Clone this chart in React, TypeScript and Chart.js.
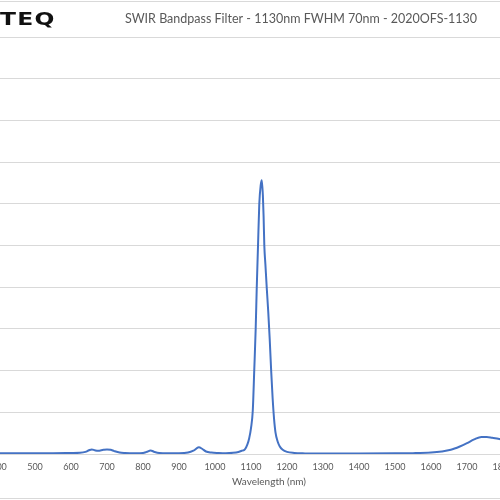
import React, { useEffect, useRef } from "react";
import { Chart, registerables } from "chart.js";

Chart.register(...registerables);

// ---- data ----
const wavelengths = [
  400, 450, 500, 550, 600, 625, 640, 650, 658, 666, 675, 690, 700, 710, 720, 735, 750, 780,
  800, 810, 821, 832, 845, 870, 900, 925, 940, 955, 965, 975, 990, 1010, 1030, 1050, 1065,
  1075, 1083, 1090, 1095, 1100, 1105, 1109, 1113, 1116, 1119.5, 1123, 1127, 1130, 1133, 1135,
  1137, 1140, 1144, 1148, 1152, 1156, 1160, 1164, 1168, 1174, 1180, 1188, 1200, 1220, 1250,
  1300, 1400, 1500, 1550, 1600, 1630, 1655, 1680, 1700, 1720, 1740, 1755, 1770, 1790, 1800,
  1850, 1900,
];
const transmission = [
  0.2, 0.2, 0.2, 0.2, 0.25, 0.3, 0.5, 0.9, 1.1, 0.9, 0.75, 1.0, 1.1, 1.0, 0.7, 0.35, 0.25, 0.2,
  0.25, 0.5, 0.85, 0.5, 0.25, 0.2, 0.2, 0.35, 0.8, 1.6, 1.2, 0.6, 0.35, 0.25, 0.2, 0.3, 0.5,
  0.8, 1.1, 2.3, 3.8, 6.2, 10.5, 20, 30, 40, 50, 60, 64.5, 65.7, 62, 57,
  50, 45.5, 39.5, 34, 27.5, 20, 13.5, 8.5, 5.2, 3.0, 1.8, 1.0, 0.5, 0.25, 0.15,
  0.1, 0.1, 0.15, 0.2, 0.35, 0.6, 1.0, 1.8, 2.6, 3.5, 4.1, 4.1, 3.9, 3.6, 3.4,
  2.5, 1.5,
];
const xTickValues = [400, 500, 600, 700, 800, 900, 1000, 1100, 1200, 1300, 1400, 1500, 1600, 1700, 1800, 1900];
const yTickValues = [0, 10, 20, 30, 40, 50, 60, 70, 80, 90, 100];

const chartTitle = "SWIR Bandpass Filter - 1130nm FWHM 70nm - 2020OFS-1130";
const xAxisTitle = "Wavelength (nm)";
const logoText = "TEQ";

const OFFSET_X = 100;
const CANVAS_W = 802;
const CANVAS_H = 500;
const FONT = "Lato, 'Open Sans', sans-serif";

const framePlugin = {
  id: "frame",
  beforeDraw(chart: any) {
    const ctx = chart.ctx;
    ctx.save();
    ctx.fillStyle = "#ffffff";
    ctx.fillRect(0, 0, chart.width, chart.height);
    ctx.strokeStyle = "#d9d9d9";
    ctx.lineWidth = 1;
    ctx.beginPath();
    ctx.moveTo(0, 1.5);
    ctx.lineTo(chart.width, 1.5);
    ctx.moveTo(0, 498.5);
    ctx.lineTo(chart.width, 498.5);
    ctx.stroke();
    ctx.restore();
  },
  afterDraw(chart: any) {
    const ctx = chart.ctx;
    // logo text
    ctx.save();
    ctx.fillStyle = "#111111";
    ctx.font = "bold 18px 'DejaVu Sans', sans-serif";
    ctx.textBaseline = "alphabetic";
    ctx.translate(OFFSET_X, 25);
    ctx.scale(1.3, 1);
    (ctx as any).letterSpacing = "1px";
    ctx.fillText(logoText, 0, 0);
    ctx.restore();
    // chart title (centred on the full Excel chart, not the plot area)
    ctx.save();
    ctx.fillStyle = "#595959";
    ctx.font = `12.5px ${FONT}`;
    ctx.textAlign = "center";
    ctx.textBaseline = "middle";
    ctx.fillText(chartTitle, chart.width / 2, 19);
    ctx.restore();
  },
};

export default function App() {
  const canvasRef = useRef<HTMLCanvasElement | null>(null);

  useEffect(() => {
    const canvas = canvasRef.current;
    if (!canvas) return;
    const points = wavelengths.map((w, i) => ({ x: w, y: transmission[i] }));
    const chart = new Chart(canvas, {
      type: "line",
      data: {
        datasets: [
          {
            data: points,
            borderColor: "#4472C4",
            borderWidth: 2,
            pointRadius: 0,
            tension: 0.4,
            cubicInterpolationMode: "monotone",
            fill: false,
          },
        ],
      },
      options: {
        responsive: false,
        animation: false,
        devicePixelRatio: 1,
        layout: { padding: { left: OFFSET_X - 1, right: CANVAS_W - (OFFSET_X - 1) - 540, top: 37.3, bottom: 0 } },
        plugins: {
          legend: { display: false },
          tooltip: { enabled: false },
          title: { display: false },
        },
        scales: {
          x: {
            type: "linear",
            min: 400,
            max: 1900,
            afterBuildTicks: (scale: any) => {
              scale.ticks = xTickValues.map((v) => ({ value: v }));
            },
            afterFit: (scale: any) => {
              scale.height = 46;
            },
            grid: { display: false, drawTicks: false },
            border: { display: true, color: "#d9d9d9" },
            ticks: {
              color: "#595959",
              font: { family: FONT, size: 9 },
              padding: 8,
              maxRotation: 0,
              autoSkip: false,
              callback: (v: any) => String(v),
            },
            title: {
              display: true,
              text: xAxisTitle,
              color: "#595959",
              font: { family: FONT, size: 10 },
              padding: { top: 0, bottom: 12 },
            },
          },
          y: {
            min: 0,
            max: 100,
            afterBuildTicks: (scale: any) => {
              scale.ticks = yTickValues.map((v) => ({ value: v }));
            },
            ticks: { display: false },
            grid: { color: "#d9d9d9", lineWidth: 1, drawTicks: false },
            border: { display: false },
          },
        },
      },
      plugins: [framePlugin],
    } as any);
    return () => chart.destroy();
  }, []);

  return (
    <div
      style={{
        position: "fixed",
        left: 0,
        top: 0,
        width: 500,
        height: 500,
        overflow: "hidden",
        background: "#ffffff",
      }}
    >
      <canvas
        ref={canvasRef}
        width={CANVAS_W}
        height={CANVAS_H}
        style={{ position: "absolute", left: -OFFSET_X, top: 0, width: CANVAS_W, height: CANVAS_H }}
      />
    </div>
  );
}
